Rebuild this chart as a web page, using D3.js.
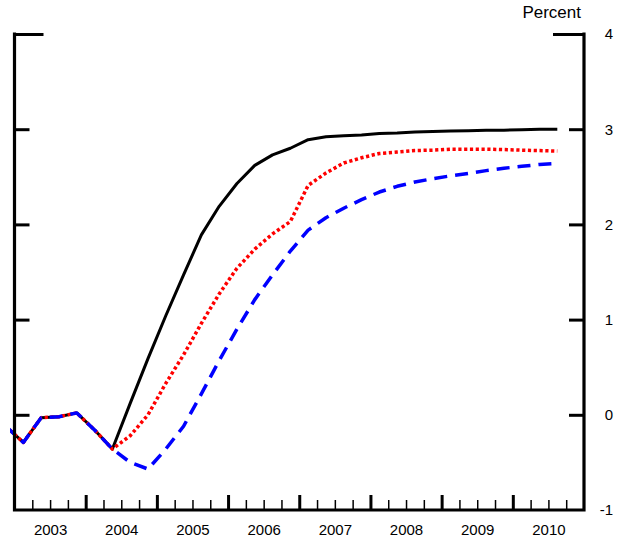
<!DOCTYPE html>
<html>
<head>
<meta charset="utf-8">
<script src="https://cdn.jsdelivr.net/npm/d3@7"></script>
<style>
  body { margin: 0; background: #fff; }
  text { font-family: "Liberation Sans", Arial, sans-serif; fill: #000; }
</style>
</head>
<body>
<div id="chart"></div>
<script>
// Data (quarterly, plotted at mid-quarter)
const quarters = ["2002Q4",
  "2003Q1","2003Q2","2003Q3","2003Q4","2004Q1","2004Q2","2004Q3","2004Q4",
  "2005Q1","2005Q2","2005Q3","2005Q4","2006Q1","2006Q2","2006Q3","2006Q4",
  "2007Q1","2007Q2","2007Q3","2007Q4","2008Q1","2008Q2","2008Q3","2008Q4",
  "2009Q1","2009Q2","2009Q3","2009Q4","2010Q1","2010Q2","2010Q3"];

const solidLine = [-0.12,-0.29,-0.03,-0.02,0.02,-0.16,-0.36,0.12,0.59,1.04,1.47,1.89,2.19,2.43,2.62,2.73,
  2.80,2.89,2.92,2.93,2.94,2.955,2.96,2.97,2.975,2.98,2.985,2.99,2.99,2.995,3.0,3.0];
const dottedLine = [-0.12,-0.29,-0.03,-0.02,0.02,-0.16,-0.36,-0.22,0.00,0.33,0.63,0.96,1.27,1.54,1.74,1.90,
  2.03,2.41,2.54,2.645,2.70,2.745,2.76,2.776,2.78,2.79,2.79,2.79,2.786,2.78,2.775,2.77];
const dashedLine = [-0.12,-0.29,-0.03,-0.02,0.02,-0.16,-0.36,-0.50,-0.57,-0.36,-0.12,0.22,0.57,0.90,1.21,1.47,
  1.72,1.94,2.07,2.17,2.26,2.34,2.40,2.445,2.48,2.51,2.535,2.565,2.59,2.61,2.63,2.64];

const years = [2003,2004,2005,2006,2007,2008,2009,2010];
const yTicks = [-1,0,1,2,3,4];

const width = 632, height = 543;

const svg = d3.select("#chart")
  .append("svg")
  .attr("width", width)
  .attr("height", height);

// Scales
const x = d3.scaleLinear().domain([2003, 2011]).range([14.5, 584]);
const y = d3.scaleLinear().domain([-1, 4]).range([510, 34]);

const qToDate = q => +q.slice(0, 4) + (+q.slice(5) - 1) / 4 + 0.125;

// Clip so the series start just left of the axis
svg.append("clipPath").attr("id", "clip")
  .append("rect")
  .attr("x", 10).attr("y", 0)
  .attr("width", 580).attr("height", height);

const line = d3.line()
  .x(d => x(d[0]))
  .y(d => y(d[1]));

const series = [
  {vals: solidLine, color: "#000", width: 3, dash: null},
  {vals: dottedLine, color: "#ff0000", width: 3.5, dash: "3.2,2.6"},
  {vals: dashedLine, color: "#0000ff", width: 3.5, dash: "13,8"}
];

svg.append("g").attr("clip-path", "url(#clip)")
  .selectAll("path")
  .data(series)
  .join("path")
  .attr("d", s => line(quarters.map((q, i) => [qToDate(q), s.vals[i]])))
  .attr("fill", "none")
  .attr("stroke", s => s.color)
  .attr("stroke-width", s => s.width)
  .attr("stroke-dasharray", s => s.dash)
  .attr("stroke-linejoin", "round");

// Quarter ticks on the bottom
const qStarts = d3.range(2003, 2011, 0.25).filter(v => v % 1 !== 0);
svg.append("g")
  .attr("transform", `translate(0,${y(-1)})`)
  .call(d3.axisTop(x).tickValues(qStarts).tickSize(10).tickFormat(""))
  .call(g => g.select(".domain").remove())
  .call(g => g.selectAll("line").attr("stroke-width", 1.5));

// Year ticks
svg.append("g")
  .attr("transform", `translate(0,${y(-1)})`)
  .call(d3.axisTop(x).tickValues(d3.range(2004, 2011)).tickSize(15).tickFormat(""))
  .call(g => g.select(".domain").remove())
  .call(g => g.selectAll("line").attr("stroke-width", 3));

// Year labels centred in each year
svg.append("g")
  .attr("transform", `translate(0,${y(-1)})`)
  .call(d3.axisBottom(x).tickValues(years.map(v => v + 0.5)).tickSize(0).tickPadding(14)
    .tickFormat(d => Math.floor(d)))
  .call(g => g.select(".domain").remove())
  .call(g => g.selectAll("text").attr("font-size", 15).attr("font-family", null));

// Left ticks (inward)
svg.append("g")
  .attr("transform", `translate(${x(2003)},0)`)
  .call(d3.axisRight(y).tickValues([0,1,2,3]).tickSize(15).tickFormat(""))
  .call(g => g.select(".domain").remove())
  .call(g => g.selectAll("line").attr("stroke-width", 3));
svg.append("g")
  .attr("transform", `translate(${x(2003)},0)`)
  .call(d3.axisRight(y).tickValues([4]).tickSize(29).tickFormat(""))
  .call(g => g.select(".domain").remove())
  .call(g => g.selectAll("line").attr("stroke-width", 3));

// Right ticks (inward) and labels
svg.append("g")
  .attr("transform", `translate(${x(2011)},0)`)
  .call(d3.axisLeft(y).tickValues([0,1,2,3]).tickSize(15).tickFormat(""))
  .call(g => g.select(".domain").remove())
  .call(g => g.selectAll("line").attr("stroke-width", 3));
svg.append("g")
  .attr("transform", `translate(${x(2011)},0)`)
  .call(d3.axisLeft(y).tickValues([4]).tickSize(31).tickFormat(""))
  .call(g => g.select(".domain").remove())
  .call(g => g.selectAll("line").attr("stroke-width", 3));

svg.append("g")
  .selectAll("text")
  .data(yTicks)
  .join("text")
  .attr("x", 613)
  .attr("y", d => y(d))
  .attr("dy", "0.36em")
  .attr("text-anchor", "end")
  .attr("font-size", 15)
  .text(d => d);

// Frame: left, right, bottom
svg.append("path")
  .attr("d", `M${x(2003)},${y(4)}V${y(-1)}H${x(2011)}V${y(4)}`)
  .attr("fill", "none")
  .attr("stroke", "#000")
  .attr("stroke-width", 3.2)
  .attr("stroke-linecap", "square");

svg.append("text")
  .attr("x", 581)
  .attr("y", 18)
  .attr("text-anchor", "end")
  .attr("font-size", 17)
  .text("Percent");
</script>
</body>
</html>
